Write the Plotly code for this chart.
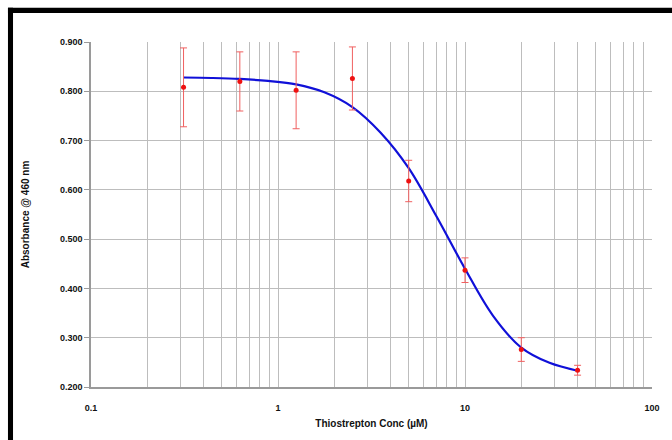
import plotly.graph_objects as go

# Measured data points
conc = [0.3125, 0.625, 1.25, 2.5, 5, 10, 20, 40]
absorbance = [0.808, 0.820, 0.802, 0.826, 0.618, 0.437, 0.276, 0.234]
err = [0.080, 0.060, 0.078, 0.064, 0.042, 0.025, 0.024, 0.010]

# Fitted curve
fit_x = [0.3125, 0.442, 0.625, 0.884, 1.25, 1.77, 2.5, 3.54, 5, 7.07, 10, 14.1, 20, 28.3, 40]
fit_y = [0.828, 0.827, 0.825, 0.821, 0.814, 0.798, 0.768, 0.716, 0.644, 0.545,
         0.440, 0.345, 0.280, 0.249, 0.233]

# Axis ticks: every 1..9 multiple gets a gridline, only decades get a label
x_decades = [0.1, 1, 10]
x_tickvals = [round(m * d, 4) for d in x_decades for m in range(1, 10)] + [100]
x_ticktext = ["0.1" if v == 0.1 else "1" if v == 1 else "10" if v == 10 else "100" if v == 100 else ""
              for v in x_tickvals]
y_ticks = [0.2, 0.3, 0.4, 0.5, 0.6, 0.7, 0.8, 0.9]
y_ticktext = ["0.200", "0.300", "0.400", "0.500", "0.600", "0.700", "0.800", "0.900"]

grid = "#bdbdbd"
axis_col = "#9a9a9a"
font_fam = "Liberation Sans, Arial, sans-serif"

fig = go.Figure()
fig.add_trace(go.Scatter(
    x=fit_x, y=fit_y, mode="lines", line=dict(color="#1010d8", width=2.2, shape="spline"),
    hoverinfo="skip", showlegend=False))
fig.add_trace(go.Scatter(
    x=conc, y=absorbance, mode="markers",
    marker=dict(color="#ee1111", size=5, symbol="circle", line=dict(width=0)),
    error_y=dict(type="data", array=err, visible=True, color="#f06060", thickness=1, width=3.5),
    hoverinfo="skip", showlegend=False))

fig.update_layout(
    width=672, height=440,
    margin=dict(l=91, r=20, t=42, b=53),
    paper_bgcolor="white", plot_bgcolor="white",
    hovermode=False,
    font=dict(family=font_fam, color="#111111"),
    xaxis=dict(
        type="log", range=[-1, 2],
        tickmode="array", tickvals=x_tickvals, ticktext=x_ticktext,
        tickfont=dict(size=9, weight="bold"),
        ticks="", ticklabelstandoff=11,
        showgrid=True, gridcolor=grid, gridwidth=1,
        showline=True, linecolor=axis_col, linewidth=1.5,
        zeroline=False, showspikes=False,
        title=dict(text="Thiostrepton Conc (µM)", font=dict(size=10, weight="bold"), standoff=8),
    ),
    yaxis=dict(
        range=[0.2, 0.9],
        tickmode="array", tickvals=y_ticks, ticktext=y_ticktext,
        tickfont=dict(size=9, weight="bold"),
        showgrid=True, gridcolor=grid, gridwidth=1,
        showline=True, linecolor=axis_col, linewidth=1.5,
        ticks="outside", ticklen=5, tickcolor=axis_col,
        zeroline=False, showspikes=False,
        title=dict(text="Absorbance @ 460 nm", font=dict(size=10, weight="bold"), standoff=28),
    ),
    shapes=[
        dict(type="rect", xref="paper", yref="paper", x0=-0.148, x1=-0.139, y0=-0.16, y1=1.099,
             fillcolor="black", line=dict(width=0), layer="above"),
        dict(type="rect", xref="paper", yref="paper", x0=-0.148, x1=1.04, y0=1.084, y1=1.099,
             fillcolor="black", line=dict(width=0), layer="above"),
    ],
)

fig.write_html("out.html", config={"displayModeBar": False},
               post_script="document.body.style.margin='0';")
